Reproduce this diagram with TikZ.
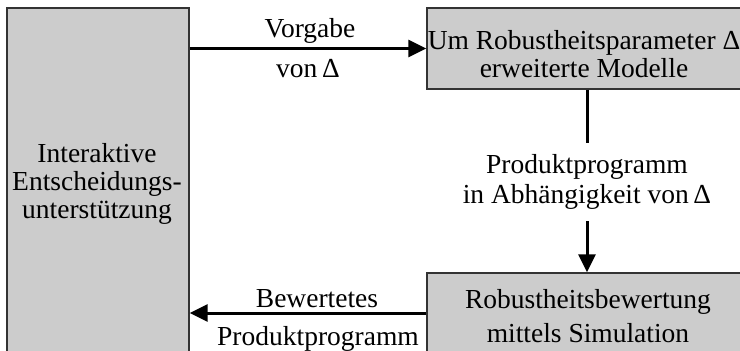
\documentclass[tikz,border=0pt]{standalone}
\usepackage{fontspec}
\setmainfont{Liberation Serif}
\usetikzlibrary{arrows.meta}
\definecolor{boxgray}{HTML}{CCCCCC}
\definecolor{boxline}{HTML}{333333}
\tikzset{
  box/.style={draw=boxline, line width=1.4pt, fill=boxgray, rectangle, inner sep=0pt},
  txt/.style={font=\fontsize{27.5}{28}\selectfont, align=center, inner sep=0pt, text=black},
  arr/.style={line width=3pt, -{Triangle[length=18pt,width=17pt]}},
  ln/.style={line width=3pt}
}
\begin{document}
\begin{tikzpicture}[x=1pt,y=-1pt]
  \useasboundingbox (0,0) rectangle (740,351);
  \clip (0,0) rectangle (740,351);
  % boxes
  \node[box, minimum width=182pt, minimum height=352pt] (L) at (98,184) {};
  \node[box, minimum width=323pt, minimum height=81pt] (TR) at (588.5,48.5) {};
  \node[box, minimum width=323pt, minimum height=80pt] (BR) at (588.5,313) {};
  % box texts
  \node[txt] (Lt) at (97,184) {Interaktive\\Entscheidungs-\\unterstützung};
  \node[txt] (TRt) at (584,54) {Um Robustheitsparameter Δ\\erweiterte Modelle};
  \node[txt, font=\fontsize{27.5}{34}\selectfont] (BRt) at (588,316) {Robustheitsbewertung\\mittels Simulation};
  % middle label
  \node[txt, font=\fontsize{27.5}{30}\selectfont, minimum height=78pt] (mid) at (587,182) {Produktprogramm\\in Abhängigkeit von\,Δ};
  % connectors
  \draw[arr] (L.east |- TR.west) -- (TR.west);
  \draw[arr] (BR.west) -- (L.east |- BR.west);
  \draw[ln] (TR.south -| mid.north) -- (mid.north);
  \draw[arr] (mid.south) -- (BR.north -| mid.south);
  % arrow labels
  \node[txt, anchor=base] (vg) at (310,37) {Vorgabe};
  \node[txt, anchor=base] (vd) at (308,77) {von\,Δ};
  \node[txt, anchor=base] (bw) at (317,307) {Bewertetes};
  \node[txt, anchor=base] (pp) at (318,345) {Produktprogramm};
\end{tikzpicture}
\end{document}
